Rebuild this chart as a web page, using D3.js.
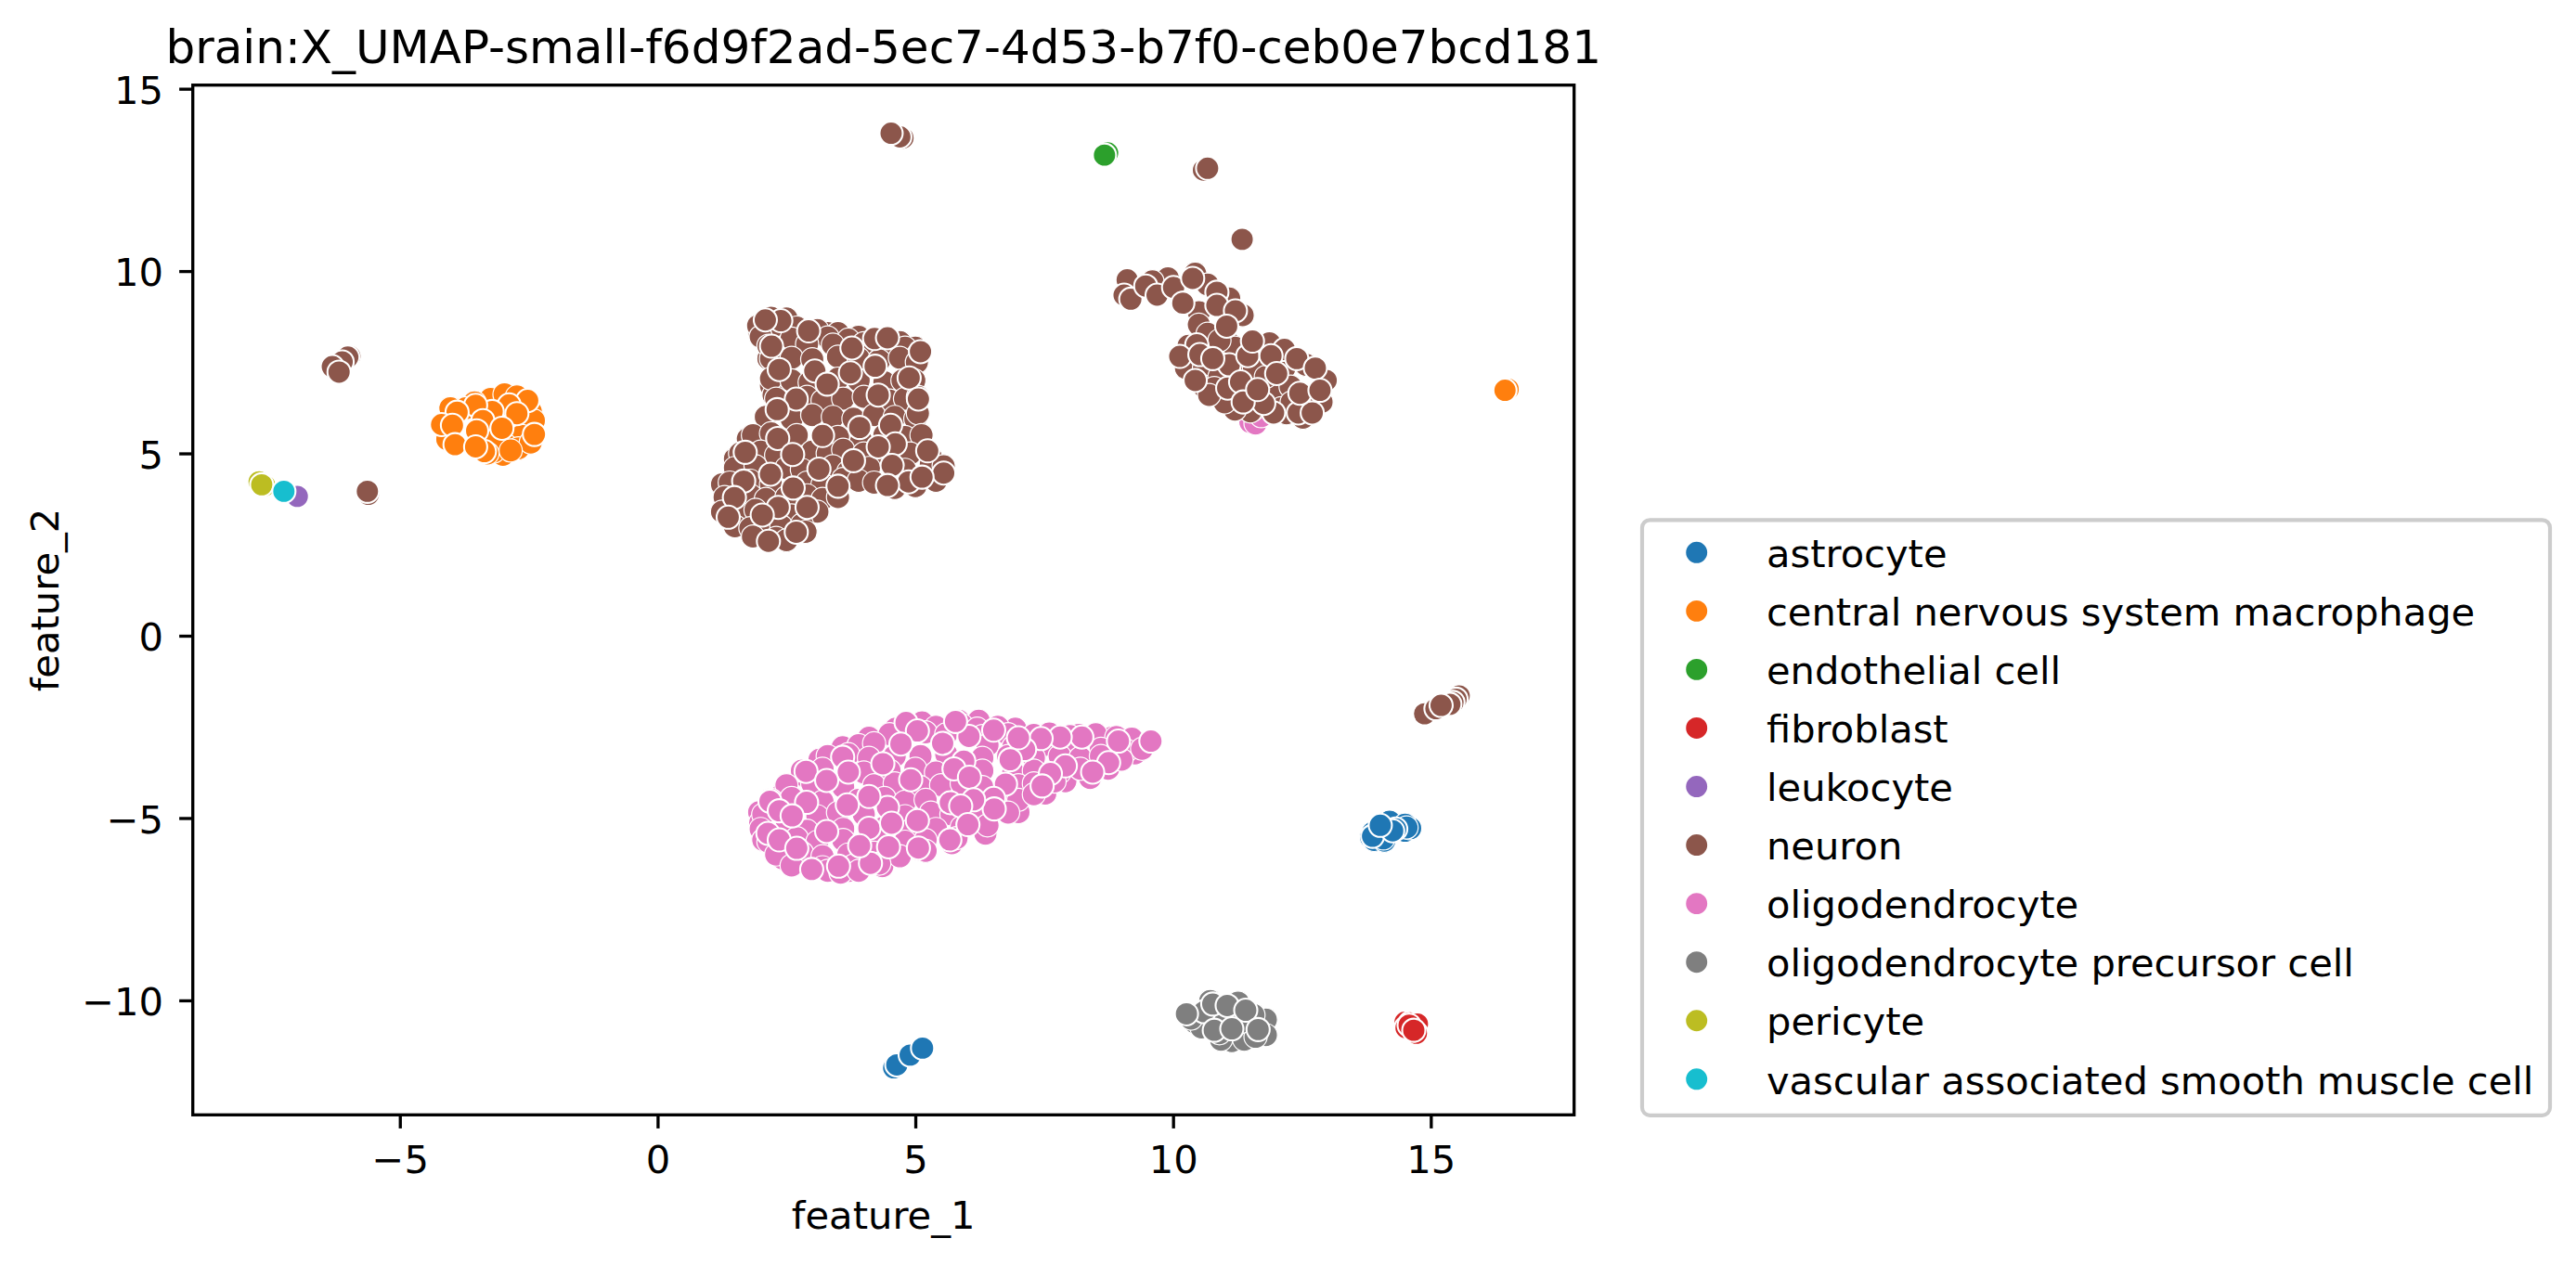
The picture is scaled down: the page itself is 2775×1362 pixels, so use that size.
<!DOCTYPE html>
<html lang="en">
<head>
<meta charset="UTF-8">
<title>brain UMAP</title>
<script src="https://d3js.org/d3.v7.min.js"></script>
<style>
  body { margin: 0; background: white; }
  text { font-family: "DejaVu Sans", sans-serif; fill: black; }
</style>
</head>
<body>
<svg width="2775" height="1362"></svg>
<script>
const categories = ["astrocyte", "central nervous system macrophage", "endothelial cell", "fibroblast", "leukocyte",
  "neuron", "oligodendrocyte", "oligodendrocyte precursor cell", "pericyte", "vascular associated smooth muscle cell"];
const colors = ["#1f77b4", "#ff7f0e", "#2ca02c", "#d62728", "#9467bd", "#8c564b", "#e377c2", "#7f7f7f", "#bcbd22", "#17becf"];
const xTicks = [-5, 0, 5, 10, 15];
const yTicks = [-10, -5, 0, 5, 10, 15];

// values, lower points first
const astrocyte = [[13.84,-5.52],[13.9,-5.6],[14.1,-5.62],[14.5,-5.35],[14.6,-5.28],[13.88,-5.4],[14.2,-5.1],[14.5,-5.18],
  [14.53,-5.26],[14.08,-5.56],[13.87,-5.5],[14.32,-5.3],[14.26,-5.35],[14.02,-5.2],
  [4.58,-11.85],[4.64,-11.77],[4.9,-11.5],[5.14,-11.31]];
const macrophage = [[-3.24,6.49],[-2.97,6.62],[-2.73,6.56],[-3.55,6.4],[-4.02,6.24],[-2.46,6.15],[-2.4,5.9],[-2.64,5.48],
  [-2.94,5.22],[-3.0,4.96],[-2.7,5.14],[-3.18,5.05],[-4.08,5.39],[-3.72,6.24],[-3.12,5.39],[-2.46,5.3],[-3.3,5.0],[-2.85,5.08],
  [-2.52,6.45],[-2.88,6.33],[-2.73,6.09],[-3.21,6.15],[-3.53,6.32],[-3.89,6.13],[-3.39,5.9],[-3.51,5.62],[-4.19,5.79],
  [-3.98,5.77],[-3.02,5.69],[-2.39,5.52],[-3.93,5.24],[-3.36,5.05],[-3.53,5.18],
  [16.5,6.76],[16.44,6.73]];
const endothelial = [[8.73,13.24],[8.67,13.18]];
const fibroblast = [[14.5,-10.6],[14.6,-10.62],[14.74,-10.65],[14.52,-10.75],[14.58,-10.68],[14.72,-10.9],[14.67,-10.82]];
const leukocyte = [[-6.99,3.82]];
const neuronStrays = [[4.76,13.65],[4.7,13.68],[4.53,13.78],[10.59,12.77],[10.67,12.82],[11.34,10.87],
  [-5.97,7.66],[-6.01,7.64],[-6.12,7.51],[-6.31,7.38],[-6.18,7.23],[-5.61,3.88],[-5.63,3.96],
  [14.88,-2.14],[15.55,-1.65],[15.49,-1.74],[15.43,-1.83],[15.37,-1.88],[15.1,-2.0],[15.2,-1.91]];
const neuronCentre = [[2.2,8.72],[2.5,8.7],[3.3,8.3],[3.9,8.2],[4.7,8.05],[5.0,7.9],[1.98,8.3],[2.15,7.6],[2.2,6.85],[2.25,6.6],[1.75,5.4],[1.5,4.85],[1.25,4.15],
  [1.95,8.5],[2.3,8.52],[2.7,8.45],[3.1,8.38],[3.5,8.3],[2.0,8.2],[2.6,8.15],[3.3,8.18],[3.7,8.12],[4.0,8.02],[4.5,8.0],
  [2.15,7.95],[2.9,8.0],[3.4,7.98],[4.8,7.9],[5.05,7.7],[2.2,7.6],[2.6,7.62],[3.0,7.58],[3.5,7.65],[3.9,7.6],[4.3,7.55],[4.7,7.62],[5.03,7.5],
  [2.2,7.05],[2.6,7.0],[2.95,6.95],[3.5,7.05],[3.9,7.0],[4.4,6.95],[4.75,7.0],[4.98,7.0],[2.3,6.5],[2.9,6.55],[3.2,6.45],[3.6,6.5],[4.0,6.55],
  [4.5,6.45],[4.8,6.5],[5.05,6.55],[2.1,6.0],[2.6,5.95],[3.0,6.05],[3.4,6.0],[3.8,5.95],[4.2,6.05],[4.6,6.0],[5.0,5.95],[5.05,6.1],
  [1.85,5.5],[2.2,5.55],[2.7,5.5],[3.5,5.45],[3.95,5.35],[4.4,5.5],[4.8,5.45],[5.12,5.5],[1.6,5.0],[2.0,5.05],[2.3,4.95],[3.0,5.05],[3.3,5.0],
  [3.6,5.1],[4.0,5.0],[4.4,4.95],[4.9,5.0],[5.3,4.9],[1.5,4.6],[1.9,4.65],[2.5,4.6],[2.8,4.55],[3.4,4.65],[3.7,4.5],[4.1,4.6],[4.8,4.55],[5.3,4.7],[5.55,4.65],
  [1.4,4.2],[1.8,4.25],[2.2,4.15],[2.9,4.2],[3.2,4.15],[3.6,4.3],[3.9,4.25],[4.2,4.2],[4.6,4.05],[5.0,4.1],[5.4,4.25],[1.3,3.8],[1.8,3.85],[2.1,3.75],
  [2.5,3.8],[2.9,3.85],[3.2,3.75],[3.5,3.8],[1.25,3.4],[1.6,3.35],[1.9,3.45],[2.3,3.4],[2.6,3.3],[3.1,3.4],[1.5,3.0],[1.8,2.95],[2.1,3.05],[2.4,3.0],
  [2.8,3.05],[1.85,2.72],[2.3,2.68],[2.5,2.62],[2.87,2.85],
  [2.39,8.64],[2.09,8.66],[2.93,8.36],[2.21,7.94],[4.21,8.15],[4.46,8.17],[5.1,7.79],[3.77,7.89],[2.36,7.3],[3.05,7.26],[3.74,7.21],[4.22,7.39],
  [4.88,7.07],[3.29,6.9],[4.28,6.6],[5.06,6.49],[2.69,6.49],[2.32,6.2],[4.52,5.77],[3.92,5.71],[3.2,5.49],[2.33,5.41],[4.61,5.26],[5.24,5.07],[4.28,5.18],
  [2.62,4.97],[1.7,5.03],[3.8,4.8],[3.13,4.57],[2.19,4.43],[1.67,4.24],[4.55,4.67],[5.55,4.46],[4.87,4.22],[5.13,4.35],[4.46,4.12],[2.63,4.05],[1.49,3.79],
  [3.5,4.1],[2.9,3.52],[2.34,3.52],[2.03,3.31],[1.37,3.25],[2.69,2.84],[2.15,2.59]];
const neuronRight = [[10.43,9.93],[9.9,9.8],[9.6,9.72],[10.67,9.63],[11.09,9.25],[11.35,8.79],[10.5,8.87],[10.5,8.53],[10.67,8.28],[10.3,7.95],[11.09,8.02],
  [11.87,8.02],[11.33,7.51],[11.57,7.34],[12.16,7.34],[12.58,7.43],[10.25,7.34],[10.6,7.34],[10.6,6.83],[10.9,7.1],[10.8,6.79],[11.15,6.5],[12.04,6.66],
  [12.28,6.83],[12.88,6.41],[12.52,5.98],[12.1,6.24],[11.8,7.1],[11.2,7.9],[10.9,8.1],[11.55,6.2],[11.5,6.15],[12.2,6.1],[12.3,6.4],[11.2,6.2],[11.0,6.4],[10.7,6.6],
  [9.11,9.76],[9.05,9.34],[9.18,9.23],[9.47,9.59],[9.69,9.34],[10.01,9.55],[10.19,9.12],[10.38,9.8],[10.85,9.42],[10.85,9.06],[11.21,8.91],[11.04,8.49],
  [10.46,7.98],[10.13,7.66],[10.52,7.71],[11.09,7.43],[11.45,7.68],[10.77,7.6],[11.54,8.08],[12.16,7.85],[12.4,7.6],[11.9,7.68],[12.01,7.19],[10.43,7.0],
  [11.06,6.79],[11.31,6.96],[11.95,6.11],[12.43,6.11],[12.7,6.11],[11.76,6.37],[11.36,6.41],[11.64,6.75],[12.97,7.0],[12.76,7.34],[12.46,6.65],[12.85,6.73]];
const oligodendrocyte = [[11.5,5.86],[11.6,5.82],[11.71,6.02],
  [1.97,-4.84],[2.43,-4.33],[2.81,-3.82],[3.14,-3.4],[3.59,-3.06],[4.1,-2.8],[4.62,-2.55],[5.13,-2.38],[5.84,-2.33],[6.23,-2.33],[6.94,-2.55],[7.52,-2.72],[8.17,-2.72],[8.81,-2.8],[9.33,-2.97],
  [9.26,-3.23],[8.74,-3.65],[8.39,-3.9],[7.91,-3.99],[7.52,-4.33],[7.0,-4.84],[6.36,-5.43],[5.71,-5.69],[5.07,-5.86],[4.36,-6.32],[3.72,-6.45],[3.01,-6.41],[2.43,-6.11],[2.04,-5.52],[1.99,-5.13],
  [5.4,-2.5],[5.9,-2.45],[6.2,-2.55],[6.6,-2.5],[4.5,-2.7],[5.2,-2.65],[5.6,-2.7],[6.3,-2.75],[6.8,-2.7],[7.3,-2.72],[7.6,-2.68],[8.0,-2.75],[8.5,-2.7],[8.9,-2.78],[9.2,-2.82],
  [3.9,-3.0],[4.2,-2.95],[6.4,-3.0],[6.9,-3.05],[7.5,-3.0],[8.0,-3.05],[8.6,-3.1],[9.1,-3.15],[9.4,-3.1],[3.3,-3.3],[3.7,-3.25],[4.1,-3.35],[4.6,-3.3],[5.1,-3.3],[5.6,-3.25],
  [6.3,-3.35],[6.8,-3.3],[7.3,-3.35],[7.8,-3.3],[8.2,-3.35],[8.6,-3.3],[9.0,-3.4],[2.8,-3.7],[3.2,-3.65],[4.0,-3.75],[4.5,-3.7],[5.0,-3.65],[5.4,-3.75],[6.3,-3.7],[6.9,-3.75],
  [7.3,-3.7],[7.8,-3.75],[8.2,-3.65],[2.5,-4.1],[3.0,-4.05],[3.6,-4.15],[4.2,-4.1],[4.6,-4.05],[5.1,-4.15],[5.5,-4.1],[5.9,-4.05],[6.3,-4.15],[7.0,-4.1],[7.3,-4.05],[7.7,-4.0],
  [2.2,-4.5],[2.6,-4.45],[3.2,-4.55],[3.9,-4.5],[4.4,-4.45],[4.8,-4.55],[5.2,-4.5],[6.6,-4.5],[7.0,-4.5],[7.3,-4.35],[2.05,-4.9],[3.1,-4.95],[3.5,-4.85],[4.0,-4.9],[4.8,-4.95],
  [5.3,-4.85],[5.7,-4.9],[6.2,-4.95],[6.8,-4.85],[2.0,-5.3],[2.5,-5.25],[2.9,-5.35],[3.6,-5.3],[4.4,-5.25],[4.9,-5.35],[5.4,-5.3],[5.9,-5.25],[6.4,-5.2],[2.05,-5.6],[2.15,-5.65],
  [2.7,-5.55],[3.1,-5.65],[3.6,-5.6],[4.3,-5.55],[4.8,-5.65],[5.2,-5.6],[5.8,-5.55],[2.3,-6.0],[2.8,-5.95],[3.2,-6.05],[3.7,-6.0],[4.2,-5.95],[4.7,-6.05],[5.2,-5.9],[2.6,-6.3],
  [3.2,-6.35],[3.8,-6.3],[4.3,-6.25],[3.3,-6.45],[3.55,-6.5],[3.9,-6.45],
  [9.57,-2.89],[8.94,-2.89],[8.23,-2.78],[8.75,-3.48],[8.44,-3.74],[7.91,-3.57],[7.62,-3.78],[7.46,-4.12],[7.81,-2.78],[7.44,-2.82],[7.12,-3.12],[7.0,-2.8],[6.84,-3.4],[6.52,-2.59],
  [6.04,-2.76],[5.78,-2.35],[5.53,-2.95],[5.94,-3.44],[5.75,-3.65],[6.05,-3.88],[4.82,-2.38],[5.04,-2.61],[4.72,-2.97],[4.37,-3.51],[3.59,-3.33],[3.7,-3.74],[2.88,-3.72],[3.28,-3.97],
  [4.91,-3.95],[6.75,-4.07],[6.52,-4.46],[6.53,-4.75],[6.13,-4.5],[5.68,-4.58],[5.88,-4.67],[6.02,-5.18],[5.67,-5.6],[5.04,-5.07],[4.46,-4.71],[4.1,-4.41],[3.68,-4.64],[2.89,-4.57],
  [2.18,-4.54],[2.36,-4.8],[2.61,-4.94],[3.28,-5.37],[4.1,-5.28],[4.54,-5.14],[2.14,-5.42],[2.36,-5.6],[2.7,-5.83],[2.99,-6.41],[3.51,-6.32],[4.13,-6.24],[4.48,-5.79],[3.92,-5.76],[5.06,-5.82]];
const opc = [[10.43,-10.61],[11.8,-10.53],[11.8,-10.95],[11.14,-11.12],[11.38,-11.08],[10.93,-11.08],[10.55,-10.74],[11.56,-10.4],[11.26,-10.06],[10.72,-10.02],
  [10.35,-10.5],[10.9,-10.9],[11.6,-11.0],[11.0,-10.4],[11.3,-10.6],
  [10.6,-10.31],[10.77,-10.1],[11.05,-10.14],[10.26,-10.37],[11.41,-10.27],[10.8,-10.82],[11.14,-10.78],[11.65,-10.8]];
const pericyte = [[-7.73,4.22],[-7.62,4.12],[-7.68,4.14]];
const smoothMuscle = [[-7.25,3.96]];

const left = 207.7, right = 1695.7, top_ = 91.7, bottom = 1201.3;
const svg = d3.select("svg");

const x = d3.scaleLinear().domain([-9.017, 17.78]).range([left, right]);
const y = d3.scaleLinear().domain([-13.14, 15.1]).range([bottom, top_]);
const color = d3.scaleOrdinal(categories, colors);
const fmt = d => String(d).replace("-", "\u2212");

// pink goes first, the neurons sit on top of it near (11.5, 6)
// third item: how many of the last points in the list lie fully on top
const layers = [
  ["oligodendrocyte", oligodendrocyte, 57],
  ["astrocyte", astrocyte, 8],
  ["central nervous system macrophage", macrophage, 17],
  ["endothelial cell", endothelial, 2],
  ["fibroblast", fibroblast, 7],
  ["leukocyte", leukocyte, 1],
  ["neuron", neuronStrays, 20],
  ["neuron", neuronCentre, 45],
  ["neuron", neuronRight, 36],
  ["oligodendrocyte precursor cell", opc, 8],
  ["pericyte", pericyte, 3],
  ["vascular associated smooth muscle cell", smoothMuscle, 1]
];

layers.forEach(([name, pts, onTop]) => {
  svg.append("g").selectAll("circle")
    .data(pts)
    .enter()
    .append("circle")
    .attr("cx", d => x(d[0]))
    .attr("cy", d => y(d[1]))
    .attr("r", 12.5)
    .attr("fill", color(name))
    .attr("stroke", "white")
    .attr("stroke-width", (d, i) => i >= pts.length - onTop ? 2.08 : 1.2);
});

// Axes
const gx = svg.append("g")
  .attr("transform", `translate(0,${bottom})`)
  .call(d3.axisBottom(x).tickValues(xTicks).tickFormat(fmt).tickSize(14.6).tickPadding(18.5));
const gy = svg.append("g")
  .attr("transform", `translate(${left},0)`)
  .call(d3.axisLeft(y).tickValues(yTicks).tickFormat(fmt).tickSize(14.6).tickPadding(17));
[gx, gy].forEach(g => {
  g.select(".domain").remove();
  g.selectAll("line").attr("stroke", "black").attr("stroke-width", 3.33);
  g.selectAll("text").style("font-family", '"DejaVu Sans", sans-serif').style("font-size", "41.67px").attr("fill", "black");
});
gy.selectAll("text").attr("dy", "0.38em");

svg.append("rect")
  .attr("x", left).attr("y", top_)
  .attr("width", right - left).attr("height", bottom - top_)
  .attr("fill", "none").attr("stroke", "black").attr("stroke-width", 3.33);

svg.append("text")
  .attr("x", (left + right) / 2).attr("y", 68)
  .attr("text-anchor", "middle").style("font-size", "50px")
  .text("brain:X_UMAP-small-f6d9f2ad-5ec7-4d53-b7f0-ceb0e7bcd181");
svg.append("text")
  .attr("x", (left + right) / 2).attr("y", 1324)
  .attr("text-anchor", "middle").style("font-size", "41.67px")
  .text("feature_1");
svg.append("text")
  .attr("transform", `translate(63,${(top_ + bottom) / 2}) rotate(-90)`)
  .attr("text-anchor", "middle").style("font-size", "41.67px")
  .text("feature_2");

// Legend
svg.append("rect")
  .attr("x", 1769).attr("y", 560.3).attr("width", 978).attr("height", 641.5).attr("rx", 8.3)
  .attr("fill", "white").attr("stroke", "#cccccc").attr("stroke-width", 4.17);
const rowY = d3.scalePoint().domain(categories).range([595.3, 1162.8]);
const rows = svg.append("g").selectAll("g")
  .data(categories)
  .enter()
  .append("g")
  .attr("transform", d => `translate(0,${rowY(d)})`);
rows.append("circle")
  .attr("cx", 1827.7).attr("r", 12.5)
  .attr("fill", d => color(d))
  .attr("stroke", "white").attr("stroke-width", 2.08);
rows.append("text")
  .attr("x", 1903).attr("y", 15.7)
  .style("font-size", "41.6px")
  .text(d => d);
</script>
</body>
</html>
